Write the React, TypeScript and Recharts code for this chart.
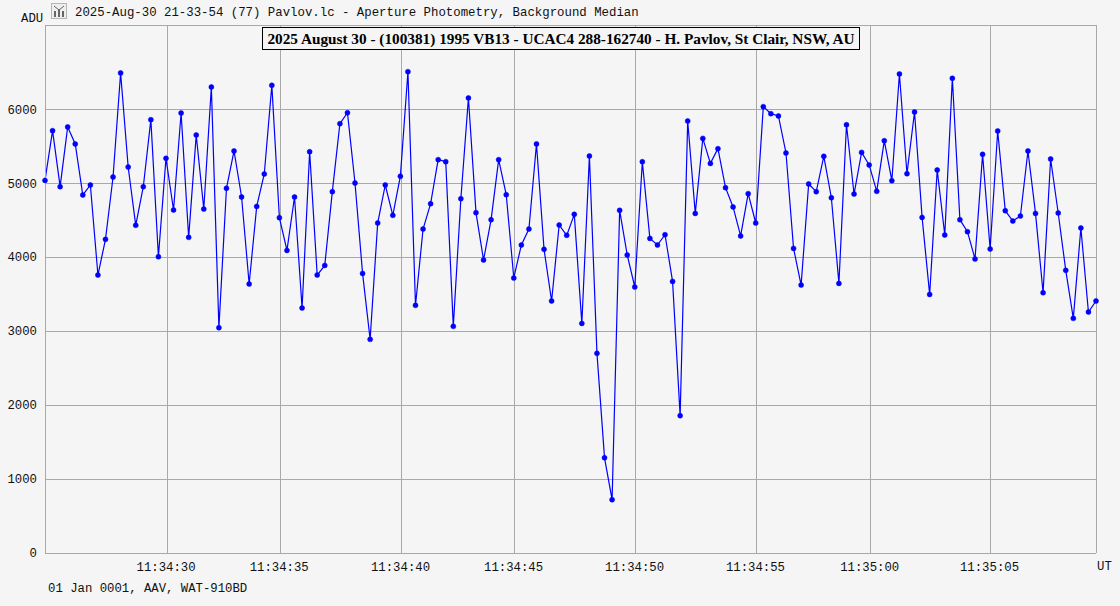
import React from 'react'
import { LineChart, Line, XAxis, YAxis, CartesianGrid, ReferenceLine } from 'recharts'

// ADU per sample
const aduValues = [
  5037, 5710, 4952, 5760, 5530, 4840, 4975, 3758, 4240, 5083,
  6490, 5218, 4430, 4952, 5858, 4006, 5335, 4637, 5948, 4267,
  5651, 4650, 6300, 3046, 4930, 5435, 4813, 3637, 4686, 5124,
  6322, 4533, 4091, 4813, 3312, 5425, 3758, 3888, 4885, 5804,
  5952, 5002, 3780, 2888, 4461, 4975, 4565, 5094, 6507, 3348,
  4380, 4722, 5318, 5290, 3064, 4790, 6152, 4601, 3961, 4506,
  5318, 4844, 3718, 4164, 4380, 5530, 4105, 3407, 4434, 4294,
  4578, 3104, 5367, 2699, 1287, 721, 4632, 4029, 3596, 5290,
  4253, 4164, 4303, 3672, 1857, 5840, 4591, 5605, 5267, 5466,
  4939, 4678, 4286, 4858, 4461, 6034, 5939, 5908, 5408, 4118,
  3623, 4989, 4885, 5362, 4803, 3645, 5790, 4853, 5416, 5246,
  4889, 5574, 5033, 6476, 5128, 5962, 4537, 3496, 5178, 4299,
  6417, 4506, 4344, 3975, 5389, 4110, 5705, 4628, 4488, 4556,
  5435, 4591, 3519, 5327, 4597, 3821, 3172, 4394, 3258, 3407,
]

// time gridlines, given in sample units; the spacing is a bit uneven in the source
const timeTickSamples = [16.15, 31.1, 47.15, 62.1, 78.1, 94.1, 109.2, 125.05]
const timeTickLabels = ['11:34:30', '11:34:35', '11:34:40', '11:34:45', '11:34:50', '11:34:55', '11:35:00', '11:35:05']
const aduTicks = [0, 1000, 2000, 3000, 4000, 5000, 6000]
const aduMax = 7138
const lastSample = aduValues.length - 1

const headerText = '2025-Aug-30 21-33-54 (77) Pavlov.lc - Aperture Photometry, Background Median'
const titleText = '2025 August 30 - (100381) 1995 VB13 - UCAC4 288-162740 - H. Pavlov, St Clair, NSW, AU'
const footerText = '01 Jan 0001, AAV, WAT-910BD'

const chartData = aduValues.map((adu, sample) => ({ sample, adu }))

const GRID = '#a9a9a9'
const MONO = '"Liberation Mono", monospace'
const tickStyle = { fontFamily: MONO, fontSize: 12.3, fill: '#111' }

const monoText = (left: number, top: number, fontSize = 12.3): React.CSSProperties => ({
  position: 'absolute',
  left,
  top,
  fontFamily: MONO,
  fontSize,
  lineHeight: '14px',
  color: '#111',
  whiteSpace: 'pre',
})

const App: React.FC = () => {
  return (
    <div style={{ position: 'fixed', left: 0, top: 0, width: 1120, height: 606, background: '#f5f5f5', overflow: 'hidden' }}>
      <style>{'.recharts-cartesian-grid line, .recharts-reference-line line, .recharts-cartesian-axis-line { shape-rendering: crispEdges; }'}</style>
      <LineChart
        width={1120}
        height={606}
        data={chartData}
        margin={{ top: 25, right: 24, bottom: 0, left: 0 }}
      >
        <CartesianGrid stroke={GRID} strokeWidth={1} />
        <XAxis
          dataKey="sample"
          type="number"
          domain={[0, lastSample]}
          ticks={timeTickSamples}
          tickFormatter={(s: number) => timeTickLabels[timeTickSamples.indexOf(s)]}
          height={53}
          interval={0}
          axisLine={{ stroke: GRID }}
          tickLine={false}
          tickMargin={3}
          tick={{ ...tickStyle, dx: -1 }}
        />
        <YAxis
          type="number"
          domain={[0, aduMax]}
          ticks={aduTicks}
          width={45}
          interval={0}
          axisLine={{ stroke: GRID }}
          tickLine={false}
          tickMargin={2}
          tick={tickStyle}
        />
        <ReferenceLine y={aduMax} stroke={GRID} />
        <ReferenceLine x={lastSample} stroke={GRID} />
        <Line
          dataKey="adu"
          type="linear"
          stroke="#0000ff"
          strokeWidth={1.2}
          dot={{ r: 2.5, fill: '#0000ff', stroke: '#0000ff', strokeWidth: 0.5 }}
          isAnimationActive={false}
        />
      </LineChart>

      <svg width={16} height={16} style={{ position: 'absolute', left: 51, top: 3 }}>
        <rect x={0.5} y={0.5} width={15} height={15} fill="#eeeeee" stroke="#b5b5b5" />
        <path d="M3 3 L8 7 L13 3" fill="none" stroke="#666" />
        <rect x={3} y={8} width={2} height={6} fill="#666" />
        <rect x={7} y={6} width={2} height={8} fill="#666" />
        <rect x={11} y={8} width={2} height={6} fill="#666" />
      </svg>
      <div style={monoText(75, 6, 12.37)}>{headerText}</div>
      <div style={monoText(21, 12)}>ADU</div>
      <div style={monoText(1097, 560)}>UT</div>
      <div style={monoText(48, 582)}>{footerText}</div>

      <div
        style={{
          position: 'absolute',
          left: 262,
          top: 27,
          width: 596,
          height: 21,
          border: '1px solid #000',
          background: '#f5f5f5',
          fontFamily: '"Liberation Serif", serif',
          fontWeight: 'bold',
          fontSize: 15.28,
          lineHeight: '21px',
          textAlign: 'center',
          whiteSpace: 'nowrap',
          color: '#000',
        }}
      >
        {titleText}
      </div>
    </div>
  )
}

export default App
